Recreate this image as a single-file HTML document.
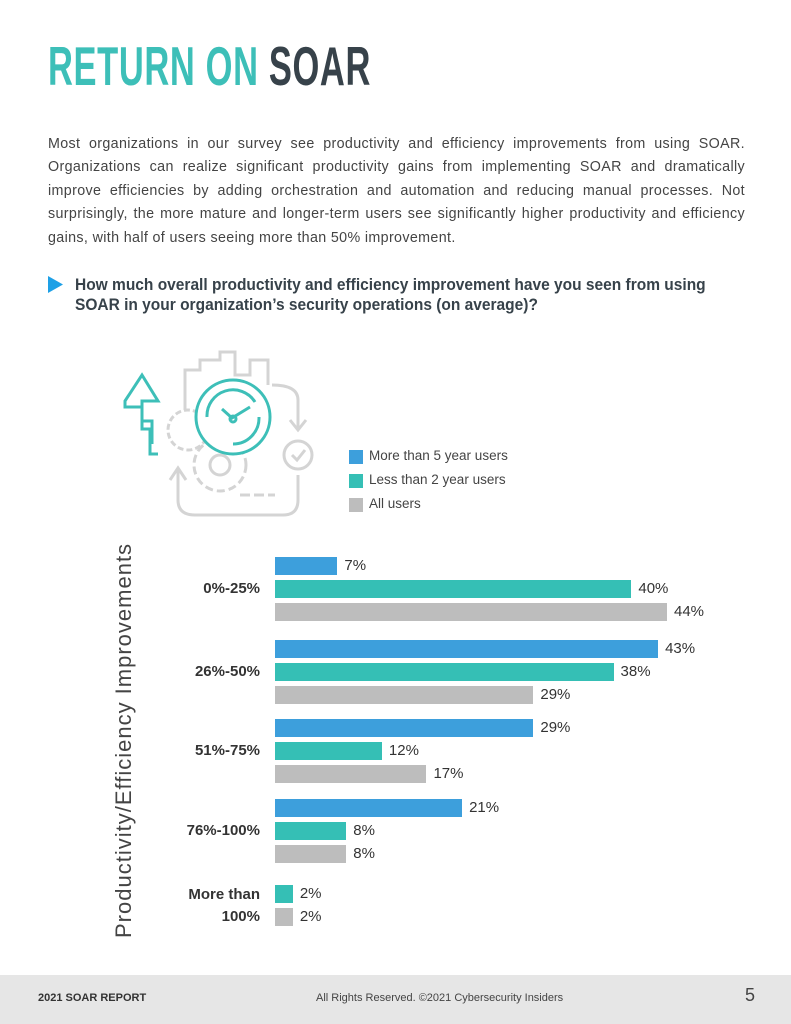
<!DOCTYPE html>
<html><head><meta charset="utf-8"><style>
body{margin:0;width:791px;height:1024px;position:relative;background:#fff;font-family:"Liberation Sans",sans-serif;overflow:hidden}
.abs{position:absolute}
#title{left:48px;top:34px;font-size:55px;font-weight:bold;transform:scaleX(0.627);transform-origin:0 0;white-space:nowrap;letter-spacing:1px}
#para{left:48px;top:133px;width:697px;font-size:14.3px;line-height:23.4px;color:#444;text-align:justify;letter-spacing:0.35px}
#q{left:75px;top:275px;font-size:17px;font-weight:bold;color:#37424a;transform:scaleX(0.912);transform-origin:0 0;white-space:nowrap;line-height:20px}
.leg{font-size:13.5px;color:#444}
.sw{width:14px;height:14px}
.cat{font-size:15px;font-weight:bold;color:#333;text-align:right;width:130px;left:130px}
.val{font-size:15px;color:#333}
</style></head><body>
<div id="title" class="abs"><span style="color:#3dbfb8">RETURN ON </span><span style="color:#37424a">SOAR</span></div>
<div id="para" class="abs">Most organizations in our survey see productivity and efficiency improvements from using SOAR. Organizations can realize significant productivity gains from implementing SOAR and dramatically improve efficiencies by adding orchestration and automation and reducing manual processes. Not surprisingly, the more mature and longer-term users see significantly higher productivity and efficiency gains, with half of users seeing more than 50% improvement.</div>
<svg class="abs" style="left:48px;top:276px" width="16" height="18"><polygon points="0,0 15,8.5 0,17" fill="#1ea0e6"/></svg>
<div id="q" class="abs">How much overall productivity and efficiency improvement have you seen from using<br>SOAR in your organization’s security operations (on average)?</div>
<svg class="abs" style="left:100px;top:340px" width="240" height="190" viewBox="0 0 240 190" fill="none" stroke-width="3">
<g stroke="#d4d4d4">
<polyline points="85,70 85,30 100,30 100,20 120,20 120,12 135,12 135,35 150,35 150,20 168,20 168,45"/>
<path d="M172,45 Q198,45 198,60 L198,88 M190,80 L198,90 L206,80"/>
<circle cx="198" cy="115" r="14"/><polyline points="192,115 197,120 205,110"/>
<path d="M198,135 L198,160 Q198,175 183,175 L95,175 Q78,175 78,160 L78,130 M70,140 L78,128 L86,140"/>
<path d="M140,155 L175,155" stroke-dasharray="10 4"/>
<circle cx="88" cy="90" r="20" stroke-dasharray="6 3"/>
<circle cx="120" cy="125" r="26" stroke-dasharray="8 4"/><circle cx="120" cy="125" r="10"/>
</g>
<g stroke="#3dbfb8">
<circle cx="133" cy="77" r="37" fill="#fff"/>
<path d="M107,77 A26,26 0 0 1 155,62 M159,77 A26,26 0 0 1 133,104"/>
<path d="M122,69 L132,78 L150,67"/><circle cx="133" cy="79" r="3"/>
<polyline points="58,114 50,114 50,89 42,89 42,67 25,67 25,61 42,35 58,61 42,61 42,81 52,81 52,104"/>
</g>
</svg>
<div class="abs sw" style="left:349px;top:450px;background:#3d9fdc"></div>
<div class="abs leg" style="left:369px;top:448px">More than 5 year users</div>
<div class="abs sw" style="left:349px;top:474px;background:#35bfb5"></div>
<div class="abs leg" style="left:369px;top:472px">Less than 2 year users</div>
<div class="abs sw" style="left:349px;top:498px;background:#bdbdbd"></div>
<div class="abs leg" style="left:369px;top:496px">All users</div>
<div class="abs" style="left:111px;top:938px;font-size:22px;letter-spacing:1px;color:#444;transform:rotate(-90deg);transform-origin:0 0;white-space:nowrap">Productivity/Efficiency Improvements</div>
<div id="chart"></div>
<div class="abs" style="left:0;top:975px;width:791px;height:49px;background:#e6e6e6"></div>
<div class="abs" style="left:38px;top:992px;font-size:11px;font-weight:bold;color:#333">2021 SOAR REPORT</div>
<div class="abs" style="left:316px;top:992px;font-size:11px;color:#444">All Rights Reserved. ©2021 Cybersecurity Insiders</div>
<div class="abs" style="left:745px;top:985px;font-size:18px;color:#444">5</div>
<script>
const categories=["0%-25%","26%-50%","51%-75%","76%-100%","More than<br>100%"];
const fiveYear=[7,43,29,21,null];
const twoYear=[40,38,12,8,2];
const allUsers=[44,29,17,8,2];
const series=[{v:fiveYear,c:"#3d9fdc",n:"5yr"},{v:twoYear,c:"#35bfb5",n:"2yr"},{v:allUsers,c:"#bdbdbd",n:"all"}];
const groupTop=[557,640,719,799,885];
const x0=275, pxPer=392/44;
const xs=v=>v*pxPer;
const chart=document.getElementById('chart');
categories.forEach((cat,i)=>{
  let row=0;const ys=[];
  series.forEach(s=>{
    const v=s.v[i]; if(v==null) return;
    const y=groupTop[i]+row*23; ys.push(y); row++;
    const b=document.createElement('div');
    b.className='abs';
    b.style.cssText=`left:${x0}px;top:${y}px;width:${xs(v)}px;height:18px;background:${s.c}`;
    
    
    chart.appendChild(b);
    const t=document.createElement('div');
    t.className='abs val';
    t.style.cssText=`left:${x0+xs(v)+7}px;top:${y}px`;
    t.textContent=v+'%';
    
    
    chart.appendChild(t);
  });
  const l=document.createElement('div');
  l.className='abs cat';
  const mid=(ys[0]+ys[ys.length-1]+18)/2;
  const lines=cat.includes('<br>')?2:1;
  l.style.top=(mid-lines*11)+'px';
  l.style.lineHeight='22px';
  l.innerHTML=cat;
  
  
  chart.appendChild(l);
});
</script>
</body></html>
